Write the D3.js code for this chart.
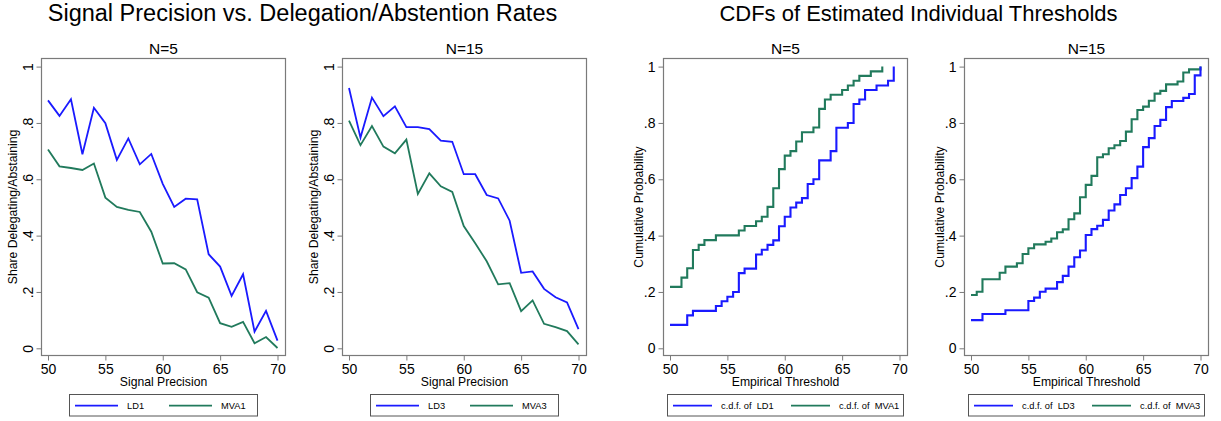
<!DOCTYPE html>
<html>
<head>
<meta charset="utf-8">
<script src="https://cdn.jsdelivr.net/npm/d3@7"></script>
<style>
  html, body { margin: 0; padding: 0; background: #fff; }
  svg { display: block; font-family: "Liberation Sans", Arial, Helvetica, sans-serif; }
</style>
</head>
<body>
<svg id="chart" width="1221" height="421"></svg>
<script>
// ---- data ----
const precision = [50,51,52,53,54,55,56,57,58,59,60,61,62,63,64,65,66,67,68,69,70];
const ld1  = [0.880,0.825,0.884,0.689,0.854,0.799,0.669,0.745,0.653,0.690,0.584,0.502,0.531,0.529,0.334,0.290,0.186,0.263,0.059,0.133,0.027];
const mva1 = [0.706,0.646,0.640,0.633,0.656,0.535,0.502,0.491,0.484,0.414,0.301,0.302,0.280,0.199,0.180,0.089,0.076,0.094,0.018,0.040,0.001];
const ld3  = [0.924,0.748,0.890,0.824,0.859,0.785,0.785,0.778,0.737,0.733,0.618,0.618,0.544,0.532,0.453,0.268,0.273,0.211,0.181,0.163,0.068];
const mva3 = [0.808,0.721,0.789,0.716,0.692,0.741,0.548,0.621,0.575,0.555,0.434,0.373,0.309,0.227,0.231,0.132,0.170,0.087,0.075,0.061,0.014];

// empirical CDFs: threshold where each step occurs and the cumulative share after it
const cdfLd1X  = [50,51.5,52,54,54.5,55,55.5,56,56.5,57.5,58,58.5,59,59.5,60,60.5,61,61.5,62,62.5,63,64,64.5,65.5,66,66.5,67,68,69,69.5];
const cdfLd1P  = [0.083,0.117,0.133,0.150,0.167,0.183,0.200,0.267,0.283,0.333,0.350,0.367,0.383,0.433,0.467,0.500,0.517,0.533,0.583,0.600,0.667,0.700,0.783,0.800,0.867,0.883,0.917,0.933,0.950,1.000];
const cdfMva1X = [50,51,51.5,52,52.5,53,54,56,56.5,57.5,58,58.5,59,59.5,60,60.5,61,61.5,62.5,63,63.5,64,65,65.5,66,66.5,67.5,68.5];
const cdfMva1P = [0.218,0.251,0.284,0.349,0.367,0.384,0.401,0.418,0.434,0.451,0.467,0.502,0.568,0.636,0.684,0.700,0.734,0.767,0.784,0.850,0.883,0.900,0.917,0.933,0.950,0.967,0.983,1.000];
const cdfLd3X  = [50,51,53,55,55.5,56,56.5,57.5,58,58.5,59,59.5,60,60.5,61,61.5,62,62.5,63,63.5,64,64.5,65,65.5,66,66.5,67,67.5,68.5,69,69.5,70];
const cdfLd3P  = [0.100,0.122,0.135,0.168,0.180,0.201,0.212,0.235,0.257,0.290,0.323,0.347,0.402,0.423,0.435,0.456,0.489,0.511,0.544,0.568,0.604,0.645,0.714,0.746,0.789,0.811,0.856,0.878,0.889,0.903,0.969,1.000];
const cdfMva3X = [50,50.5,51,52.5,53,54,54.5,55,55.5,56.5,57,57.5,58,58.5,59,59.5,60,60.5,61,61.5,62,62.5,63,63.5,64,64.5,65,65.5,66,66.5,67,68,68.5,69,70];
const cdfMva3P = [0.189,0.201,0.245,0.268,0.290,0.302,0.335,0.355,0.369,0.378,0.390,0.412,0.422,0.458,0.479,0.536,0.580,0.612,0.678,0.689,0.710,0.721,0.736,0.769,0.813,0.846,0.858,0.879,0.904,0.914,0.937,0.947,0.979,0.990,1.000];

const xTicks = [50,55,60,65,70];
const yTicks = [0,0.2,0.4,0.6,0.8,1];
const yTickLabels = ["0",".2",".4",".6",".8","1"];

const titles = ["Signal Precision vs. Delegation/Abstention Rates", "CDFs of Estimated Individual Thresholds"];
const panelTitles = ["N=5","N=15","N=5","N=15"];

// ---- styling ----
const BLUE = "#1a1aff";
const GREEN = "#217a5c";
const FRAME = "#7a7a7a";

const svg = d3.select("#chart");

const panels = [
  { left: 41.5,  kind: "line", title: panelTitles[0], xs: precision, a: ld1, b: mva1, la: "LD1", lb: "MVA1",
    xlab: "Signal Precision", ylab: "Share Delegating/Abstaining" },
  { left: 342.5, kind: "line", title: panelTitles[1], xs: precision, a: ld3, b: mva3, la: "LD3", lb: "MVA3",
    xlab: "Signal Precision", ylab: "Share Delegating/Abstaining" },
  { left: 663.5, kind: "cdf", title: panelTitles[2], ax: cdfLd1X, a: cdfLd1P, bx: cdfMva1X, b: cdfMva1P,
    la: "c.d.f. of  LD1", lb: "c.d.f. of  MVA1", xlab: "Empirical Threshold", ylab: "Cumulative Probability" },
  { left: 964.5, kind: "cdf", title: panelTitles[3], ax: cdfLd3X, a: cdfLd3P, bx: cdfMva3X, b: cdfMva3P,
    la: "c.d.f. of  LD3", lb: "c.d.f. of  MVA3", xlab: "Empirical Threshold", ylab: "Cumulative Probability" }
];

const frameTop = 58.5, frameBottom = 355.5, frameW = 244;

// main titles
svg.append("text").attr("x", 302.5).attr("y", 21).attr("text-anchor", "middle")
  .attr("font-size", 23.5).attr("fill", "#000").text(titles[0]);
svg.append("text").attr("x", 918.5).attr("y", 21).attr("text-anchor", "middle")
  .attr("font-size", 22).attr("fill", "#000").text(titles[1]);

panels.forEach(p => {
  const g = svg.append("g");
  const L = p.left, R = p.left + frameW;
  const x = d3.scaleLinear().domain([50, 70]).range([L + 6.5, L + 236]);
  const y = d3.scaleLinear().domain([0, 1]).range([348.3, 66.6]);
  const cx = (L + R) / 2;

  // subtitle
  g.append("text").attr("x", cx).attr("y", 53.5).attr("text-anchor", "middle")
    .attr("font-size", 15.5).text(p.title);

  // plot region frame
  g.append("rect").attr("x", L).attr("y", frameTop).attr("width", frameW).attr("height", frameBottom - frameTop)
    .attr("fill", "none").attr("stroke", FRAME).attr("stroke-width", 1.2);

  // x axis
  const xa = g.append("g").attr("transform", `translate(0,${frameBottom})`)
    .call(d3.axisBottom(x).tickValues(xTicks).tickSize(5).tickPadding(4).tickFormat(d3.format("d")));
  xa.select(".domain").remove();
  xa.selectAll("line").attr("stroke", FRAME);
  xa.selectAll("text").attr("font-size", 14).attr("font-family", null).attr("fill", "#000");

  // y axis
  const ya = g.append("g").attr("transform", `translate(${L},0)`)
    .call(d3.axisLeft(y).tickValues(yTicks).tickSize(5).tickPadding(3).tickFormat((d, i) => yTickLabels[i]));
  ya.select(".domain").remove();
  ya.selectAll("line").attr("stroke", FRAME);
  ya.selectAll("text").attr("font-size", 14).attr("font-family", null).attr("fill", "#000");
  if (p.kind === "line") {
    // vertical tick labels for the share axis
    ya.selectAll("text")
      .attr("transform", "rotate(-90)")
      .attr("x", 0).attr("y", -8.3).attr("dy", 0)
      .attr("text-anchor", "middle");
  }

  // axis titles
  g.append("text").attr("x", cx).attr("y", 386).attr("text-anchor", "middle")
    .attr("font-size", 12.2).text(p.xlab);
  const yl = p.kind === "line" ? L - 25 : L - 21;
  g.append("text").attr("transform", `translate(${yl},${(frameTop + frameBottom) / 2}) rotate(-90)`)
    .attr("text-anchor", "middle").attr("font-size", 12.2).text(p.ylab);

  // series
  if (p.kind === "line") {
    const line = d3.line().x((d, i) => x(p.xs[i])).y(d => y(d));
    g.append("path").datum(p.a).attr("d", line).attr("fill", "none")
      .attr("stroke", BLUE).attr("stroke-width", 1.8).attr("stroke-linejoin", "miter");
    g.append("path").datum(p.b).attr("d", line).attr("fill", "none")
      .attr("stroke", GREEN).attr("stroke-width", 1.8).attr("stroke-linejoin", "miter");
  } else {
    const step = d3.line().curve(d3.curveStepAfter).x(d => x(d[0])).y(d => y(d[1]));
    const ptsA = p.ax.map((v, i) => [v, p.a[i]]);
    const ptsB = p.bx.map((v, i) => [v, p.b[i]]);
    g.append("path").datum(ptsB).attr("d", step).attr("fill", "none")
      .attr("stroke", GREEN).attr("stroke-width", 2.1);
    g.append("path").datum(ptsA).attr("d", step).attr("fill", "none")
      .attr("stroke", BLUE).attr("stroke-width", 2.1);
  }

  // legend
  const boxW = p.kind === "line" ? 188 : 236;
  const boxL = cx - boxW / 2, boxT = 394.5, boxH = 21.5;
  const lg = g.append("g");
  lg.append("rect").attr("x", boxL).attr("y", boxT).attr("width", boxW).attr("height", boxH)
    .attr("fill", "#fff").attr("stroke", "#555").attr("stroke-width", 1);
  const half = boxW / 2;
  const lineLen = p.kind === "line" ? 43 : 39;
  [[p.la, BLUE], [p.lb, GREEN]].forEach((k, i) => {
    const x0 = boxL + i * half + 5.5;
    lg.append("line").attr("x1", x0).attr("x2", x0 + lineLen).attr("y1", 405.7).attr("y2", 405.7)
      .attr("stroke", k[1]).attr("stroke-width", 1.8);
    lg.append("text").attr("x", x0 + lineLen + 9).attr("y", 409.4).attr("font-size", 9.3)
      .attr("xml:space", "preserve").style("white-space", "pre").text(k[0]);
  });
});
</script>
</body>
</html>
